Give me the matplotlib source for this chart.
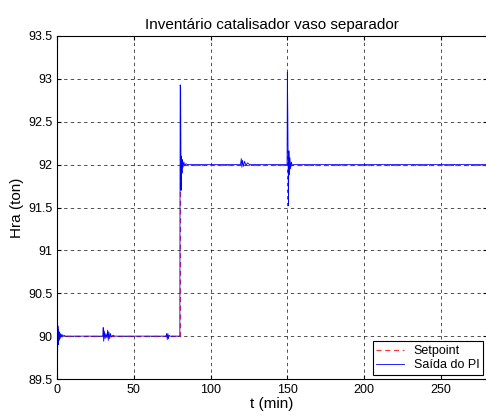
import matplotlib
matplotlib.use("Agg")
import matplotlib.pyplot as plt

plt.rcParams['font.family'] = ['Liberation Sans', 'DejaVu Sans']

# Setpoint (ton)
t_sp = [0, 80, 80, 280]
hra_sp = [90.0, 90.0, 92.0, 92.0]

# PI output
t_pi = [0, 0.2, 0.4, 0.6, 0.8, 1.0, 1.3, 1.6, 2.0, 2.4, 2.8, 3.3, 3.8, 4.5, 5.5, 7, 10,
        29.8, 30.1, 30.4, 30.8, 31.3, 31.8, 32.5, 33.0, 33.4, 33.8, 34.3, 34.8, 35.5, 36.5, 37.5, 39, 40,
        71, 71.4, 71.8, 72.2, 72.6, 73.0, 73.5, 79.9,
        80.0, 80.2, 80.5, 80.8, 81.1, 81.4, 81.7, 82.1, 82.6, 83.1, 84, 85, 119.5,
        120.0, 120.4, 120.8, 121.4, 122.2, 123.0, 124.0, 125.5, 127, 128,
        149.8, 150.0, 150.3, 150.7, 151.0, 151.3, 151.7, 152.1, 152.6, 153.2, 154, 280]
hra_pi = [90.0, 90.18, 89.82, 90.12, 89.9, 90.08, 89.95, 90.05, 89.97, 90.03, 89.99, 90.02, 89.99, 90.01, 90.0, 90.0, 90.0,
          90.0, 90.1, 89.94, 90.06, 89.97, 90.03, 89.98, 90.07, 89.95, 90.05, 89.97, 90.03, 89.99, 90.01, 90.0, 90.0, 90.0,
          90.0, 90.03, 89.96, 90.03, 89.97, 90.01, 90.0, 90.0,
          90.0, 92.93, 92.9, 91.7, 92.1, 91.9, 92.06, 91.97, 92.03, 91.99, 92.01, 92.0, 92.0,
          92.07, 91.97, 92.05, 91.98, 92.04, 91.99, 92.02, 92.0, 92.0, 92.0,
          92.0, 93.08, 92.6, 91.52, 92.16, 91.88, 92.08, 91.95, 92.03, 91.99, 92.0, 92.0]

fig = plt.figure(figsize=(4.86, 4.17), dpi=100)
ax = fig.add_axes([57 / 486, 38 / 417, 430 / 486, 343 / 417])

ax.plot(t_sp, hra_sp, 'r--', lw=0.9, label='Setpoint', dashes=(4, 3), alpha=0.8)
ax.plot(t_pi, hra_pi, color='b', lw=0.6, label='Saída do PI')

ax.set_xlim(0, 280)
ax.set_ylim(89.5, 93.5)
ax.set_xticks([0, 50, 100, 150, 200, 250])
ax.set_yticks([89.5, 90, 90.5, 91, 91.5, 92, 92.5, 93, 93.5])
ax.set_yticklabels(['89.5', '90', '90.5', '91', '91.5', '92', '92.5', '93', '93.5'])
ax.grid(True, color='k', ls=(0, (4, 4)), lw=0.6, alpha=0.8)
ax.tick_params(direction='in', top=True, right=True, length=3, labelsize=9)
for s in ax.spines.values():
    s.set_linewidth(0.8)

ax.set_title('Inventário catalisador vaso separador', fontsize=11, pad=5)
ax.set_xlabel('t (min)', fontsize=11, labelpad=1)
ax.set_ylabel('Hra (ton)', fontsize=11, labelpad=3)

leg = ax.legend(loc='lower right', fontsize=9, fancybox=False, framealpha=1,
                edgecolor='k', borderaxespad=0.3, handlelength=2.2, borderpad=0.3,
                labelspacing=0.2)
leg.get_frame().set_linewidth(0.8)

fig.savefig('out.png', dpi=100)
